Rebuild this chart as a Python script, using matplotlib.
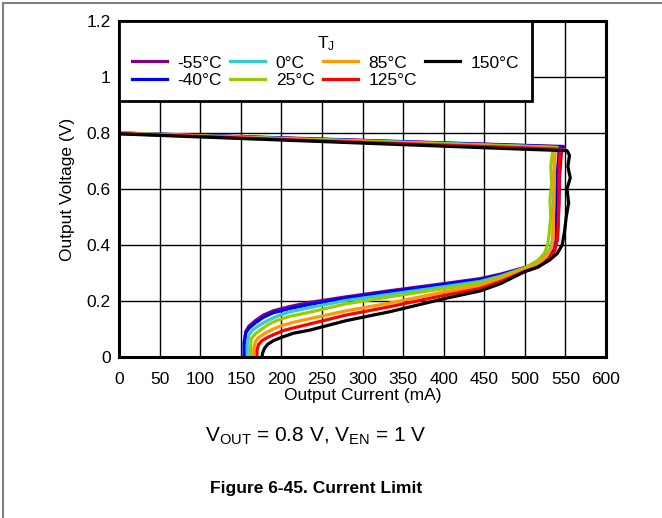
import matplotlib
matplotlib.use("Agg")
import matplotlib.pyplot as plt
from matplotlib.lines import Line2D

plt.rcParams['font.family'] = ['Liberation Sans', 'DejaVu Sans']
plt.rcParams['mathtext.default'] = 'regular'

# Output current (mA) / output voltage (V), in sweep order
labels = ['-55°C', '-40°C', '0°C', '25°C', '85°C', '125°C', '150°C']
colors = ['#800080', '#0000ff', '#33cccc', '#99cc00', '#ff9900', '#ff0000', '#000000']

i_m55 = [0, 100, 200, 300, 400, 500, 548, 545, 543, 542, 541, 540, 537, 530, 515, 500, 470, 445, 400, 334, 280, 235, 210, 190, 178, 168, 160, 156, 155, 155]
v_m55 = [0.800, 0.792, 0.783, 0.774, 0.765, 0.756, 0.752, 0.73, 0.65, 0.55, 0.47, 0.42, 0.39, 0.36, 0.335, 0.320, 0.296, 0.280, 0.262, 0.237, 0.215, 0.195, 0.180, 0.165, 0.150, 0.130, 0.110, 0.090, 0.05, 0.0]

i_m40 = [0, 100, 200, 300, 400, 500, 546, 542, 540, 539, 539, 538, 535, 528, 515, 500, 470, 445, 400, 334, 280, 235, 210, 190, 178, 168, 160, 156, 154, 154]
v_m40 = [0.800, 0.791, 0.782, 0.773, 0.764, 0.755, 0.750, 0.73, 0.65, 0.55, 0.47, 0.42, 0.39, 0.36, 0.333, 0.318, 0.293, 0.277, 0.259, 0.233, 0.211, 0.188, 0.173, 0.158, 0.142, 0.122, 0.103, 0.085, 0.05, 0.0]

i_0 = [0, 100, 200, 300, 400, 500, 540, 537, 536, 535, 535, 534, 532, 525, 512, 500, 470, 445, 400, 334, 280, 235, 210, 195, 183, 172, 164, 160, 158, 158]
v_0 = [0.800, 0.790, 0.781, 0.772, 0.763, 0.753, 0.749, 0.73, 0.65, 0.55, 0.47, 0.42, 0.39, 0.36, 0.333, 0.318, 0.289, 0.270, 0.251, 0.224, 0.202, 0.176, 0.161, 0.146, 0.130, 0.112, 0.095, 0.078, 0.045, 0.0]

i_25 = [0, 100, 200, 300, 400, 500, 538, 534, 532, 533, 531, 532, 530, 528, 524, 516, 500, 470, 445, 400, 334, 280, 235, 210, 195, 185, 176, 168, 163, 162, 162]
v_25 = [0.800, 0.790, 0.780, 0.771, 0.761, 0.752, 0.747, 0.73, 0.68, 0.62, 0.56, 0.50, 0.44, 0.40, 0.37, 0.345, 0.318, 0.286, 0.264, 0.244, 0.215, 0.190, 0.160, 0.145, 0.131, 0.118, 0.100, 0.083, 0.065, 0.035, 0.0]

i_85 = [0, 100, 200, 300, 400, 500, 540, 537, 536, 536, 535, 535, 533, 527, 515, 500, 470, 445, 400, 334, 280, 235, 215, 200, 190, 180, 172, 168, 166, 166]
v_85 = [0.799, 0.789, 0.779, 0.769, 0.759, 0.749, 0.745, 0.73, 0.65, 0.55, 0.47, 0.42, 0.39, 0.36, 0.330, 0.313, 0.279, 0.255, 0.232, 0.193, 0.165, 0.137, 0.124, 0.112, 0.100, 0.085, 0.070, 0.055, 0.030, 0.0]

i_125 = [0, 100, 200, 300, 400, 500, 545, 543, 542, 542, 541, 540, 537, 530, 517, 500, 470, 445, 400, 334, 280, 235, 215, 203, 193, 183, 176, 172, 170, 170]
v_125 = [0.798, 0.788, 0.777, 0.767, 0.757, 0.747, 0.742, 0.72, 0.65, 0.55, 0.47, 0.42, 0.38, 0.35, 0.322, 0.306, 0.270, 0.245, 0.220, 0.180, 0.150, 0.118, 0.104, 0.095, 0.083, 0.070, 0.058, 0.045, 0.025, 0.0]

i_150 = [0, 100, 200, 300, 400, 500, 552, 555, 553, 556, 552, 554, 551, 549, 546, 540, 530, 515, 500, 470, 445, 400, 334, 280, 235, 215, 200, 190, 183, 179, 177, 176]
v_150 = [0.797, 0.786, 0.775, 0.764, 0.753, 0.742, 0.737, 0.72, 0.68, 0.64, 0.60, 0.55, 0.50, 0.45, 0.40, 0.37, 0.345, 0.320, 0.305, 0.262, 0.236, 0.208, 0.162, 0.130, 0.096, 0.085, 0.070, 0.058, 0.045, 0.030, 0.015, 0.0]

currents = [i_m55, i_m40, i_0, i_25, i_85, i_125, i_150]
voltages = [v_m55, v_m40, v_0, v_25, v_85, v_125, v_150]

xticks = [0, 50, 100, 150, 200, 250, 300, 350, 400, 450, 500, 550, 600]
yticks = [0, 0.2, 0.4, 0.6, 0.8, 1.0, 1.2]
ytick_labels = ['0', '0.2', '0.4', '0.6', '0.8', '1', '1.2']

fig = plt.figure(figsize=(6.62, 5.18), dpi=100)
ax = fig.add_axes([0.1798, 0.3108, 0.7356, 0.6486])

for cur, volt, lab, col in zip(currents, voltages, labels, colors):
    ax.plot(cur, volt, color=col, lw=2.3, label=lab, solid_joinstyle='round')

ax.set_xlim(0, 600)
ax.set_ylim(0, 1.2)
ax.set_xticks(xticks)
ax.set_yticks(yticks)
ax.set_yticklabels(ytick_labels)
ax.tick_params(length=0, labelsize=12.5)
ax.tick_params(axis='y', pad=6)
ax.tick_params(axis='x', pad=10.5)
ax.grid(True, color='black', lw=1.0)
ax.set_axisbelow(True)
for sp in ax.spines.values():
    sp.set_linewidth(2.2)

ax.set_xlabel('Output Current (mA)', fontsize=12.5, labelpad=1)
ax.set_ylabel('Output Voltage (V)', fontsize=12.5, labelpad=8)

leg = ax.legend(loc='upper left', bbox_to_anchor=(0, 1), borderaxespad=0,
                ncol=4, title='T$_J$', fontsize=12.5, title_fontsize=12.5,
                fancybox=False, framealpha=1, edgecolor='black',
                handlelength=2.0, handletextpad=0.6, columnspacing=0.5,
                labelspacing=0.15, borderpad=0.75)
leg.get_frame().set_linewidth(2.0)

fig.text(0.477, 0.158, 'V$_{OUT}$ = 0.8 V, V$_{EN}$ = 1 V', ha='center', va='center', fontsize=15)
fig.text(0.477, 0.056, 'Figure 6-45. Current Limit', ha='center', va='center',
         fontsize=12.5, fontweight='bold')

# page frame (top and left rules)
fig.add_artist(Line2D([0.005, 1.0], [0.994, 0.994], color='#808080', lw=1.5))
fig.add_artist(Line2D([0.005, 0.005], [0.0, 0.994], color='#808080', lw=1.5))

fig.savefig('out.png', dpi=100)
